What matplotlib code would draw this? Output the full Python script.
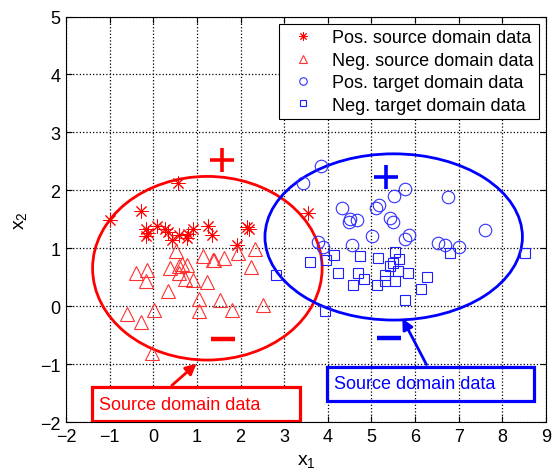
import numpy as np
import matplotlib.pyplot as plt
from matplotlib.patches import Ellipse, Rectangle

plt.rcParams['font.family'] = ['Liberation Sans', 'DejaVu Sans']
plt.rcParams['mathtext.fontset'] = 'custom'
plt.rcParams['mathtext.rm'] = 'Liberation Sans'
plt.rcParams['mathtext.it'] = 'Liberation Sans'

# source domain, positive class
pos_src_x = [-0.99, 0.57, -0.28, -0.16, -0.16, -0.12, 0.09, 0.28, 0.34, 0.43,
             0.60, 0.77, 0.80, 0.92, 1.25, 1.34, 1.91, 2.14, 2.19, 3.54]
pos_src_y = [1.49, 2.12, 1.65, 1.33, 1.21, 1.27, 1.38, 1.33, 1.28, 1.15,
             1.23, 1.17, 1.25, 1.33, 1.38, 1.22, 1.05, 1.36, 1.34, 1.60]

# source domain, negative class
neg_src_x = [0.52, -0.40, -0.14, -0.17, 0.39, 0.58, 0.67, 0.77, 0.60, 0.72,
             0.90, 1.13, 1.36, 1.40, 1.61, 1.95, 2.34, 2.25, 1.23, 0.34,
             1.04, 1.04, 1.52, 1.80, 2.52, 0.02, -0.61, -0.29, -0.02]
neg_src_y = [0.96, 0.57, 0.63, 0.43, 0.66, 0.70, 0.73, 0.71, 0.57, 0.47,
             0.45, 0.86, 0.79, 0.80, 0.84, 0.91, 0.98, 0.67, 0.41, 0.27,
             0.13, -0.08, 0.10, -0.07, 0.02, -0.07, -0.14, -0.28, -0.81]

# target domain, positive class
pos_tgt_x = [3.84, 3.44, 5.76, 5.51, 6.75, 4.32, 5.11, 5.18, 4.51, 4.48,
             4.68, 5.43, 5.49, 7.61, 5.01, 5.86, 5.78, 3.77, 3.88, 4.55,
             6.52, 6.68, 7.00]
pos_tgt_y = [2.42, 2.13, 2.03, 1.90, 1.89, 1.69, 1.70, 1.74, 1.50, 1.46,
             1.49, 1.53, 1.45, 1.32, 1.21, 1.23, 1.16, 1.11, 1.02, 1.06,
             1.09, 1.06, 1.02]

# target domain, negative class
neg_tgt_x = [5.53, 4.15, 4.74, 5.14, 5.64, 5.49, 5.43, 3.60, 3.96, 6.79,
             8.51, 2.81, 4.24, 4.70, 4.82, 5.30, 5.60, 5.83, 6.27, 4.57,
             5.12, 5.30, 5.53, 6.14, 5.77, 3.93]
neg_tgt_y = [0.94, 0.89, 0.87, 0.83, 0.81, 0.75, 0.69, 0.77, 0.80, 0.92,
             0.92, 0.54, 0.58, 0.58, 0.47, 0.54, 0.60, 0.58, 0.51, 0.37,
             0.37, 0.43, 0.43, 0.30, 0.11, -0.08]

fig = plt.figure(figsize=(5.53, 4.77), dpi=100)
ax = fig.add_axes([0.1193, 0.1132, 0.868, 0.850])

ax.plot(pos_src_x, pos_src_y, linestyle='none', marker=(8, 2, 0), ms=10,
        mew=0.7, color='red', label='Pos. source domain data')
ax.plot(neg_src_x, neg_src_y, linestyle='none', marker='^', ms=9.5, mew=0.8,
        mfc='none', mec='#ff3030', label='Neg. source domain data')
ax.plot(pos_tgt_x, pos_tgt_y, linestyle='none', marker='o', ms=9, mew=0.8,
        mfc='none', mec='#3030ff', label='Pos. target domain data')
ax.plot(neg_tgt_x, neg_tgt_y, linestyle='none', marker='s', ms=7, mew=0.8,
        mfc='none', mec='#2020ff', label='Neg. target domain data')

# domain ellipses
ax.add_patch(Ellipse((1.24, 0.655), 2 * 2.63, 2 * 1.585, fill=False,
                     ec='red', lw=2))
ax.add_patch(Ellipse((5.51, 1.195), 2 * 2.95, 2 * 1.435, fill=False,
                     ec='blue', lw=2))

# class signs
ax.plot([1.57], [2.52], marker='+', ms=17, mew=2.6, color='red')
ax.plot([1.60], [-0.57], marker='_', ms=17, mew=3.2, color='red')
ax.plot([5.34], [2.23], marker='+', ms=17, mew=2.6, color='blue')
ax.plot([5.40], [-0.55], marker='_', ms=17, mew=3.2, color='blue')

# callout boxes
ax.add_patch(Rectangle((-1.41, -1.98), 4.77, 0.58, fill=True, fc='white',
                       ec='red', lw=2.3, zorder=4))
ax.text(-1.25, -1.69, 'Source domain data', color='red', fontsize=13,
        va='center', ha='left', zorder=5)
ax.add_patch(Rectangle((3.98, -1.63), 4.74, 0.58, fill=True, fc='none',
                       ec='blue', lw=2.3, zorder=4))
ax.text(4.15, -1.33, 'Source domain data', color='blue', fontsize=13,
        va='center', ha='left', zorder=5)

ax.annotate('', xy=(1.04, -0.96), xytext=(0.38, -1.40),
            arrowprops=dict(arrowstyle='-|>', color='red', lw=2,
                            mutation_scale=16), zorder=5)
ax.annotate('', xy=(5.68, -0.17), xytext=(6.29, -1.05),
            arrowprops=dict(arrowstyle='-|>', color='blue', lw=2,
                            mutation_scale=16), zorder=5)

ax.set_xlim(-2, 9)
ax.set_ylim(-2, 5)
ax.set_xticks(range(-2, 10))
ax.set_yticks(range(-2, 6))
ax.tick_params(direction='in', top=True, right=True, labelsize=13,
               length=4, pad=4)
ax.grid(True, linestyle=':', color='black', linewidth=0.9)
ax.set_axisbelow(True)
for s in ax.spines.values():
    s.set_linewidth(0.8)

ax.set_xlabel(r'$\mathregular{x_1}$', fontsize=14, labelpad=5)
ax.set_ylabel(r'$\mathregular{x_2}$', fontsize=14, labelpad=8)

leg = ax.legend(loc='upper right', bbox_to_anchor=(0.985, 0.9815),
                borderaxespad=0, fontsize=13, fancybox=False,
                framealpha=1, edgecolor='black', markerscale=0.6,
                handlelength=2.0, handletextpad=0.6, labelspacing=0.3,
                borderpad=0.3)
leg.get_frame().set_linewidth(0.8)

fig.savefig('out.png', dpi=100)
